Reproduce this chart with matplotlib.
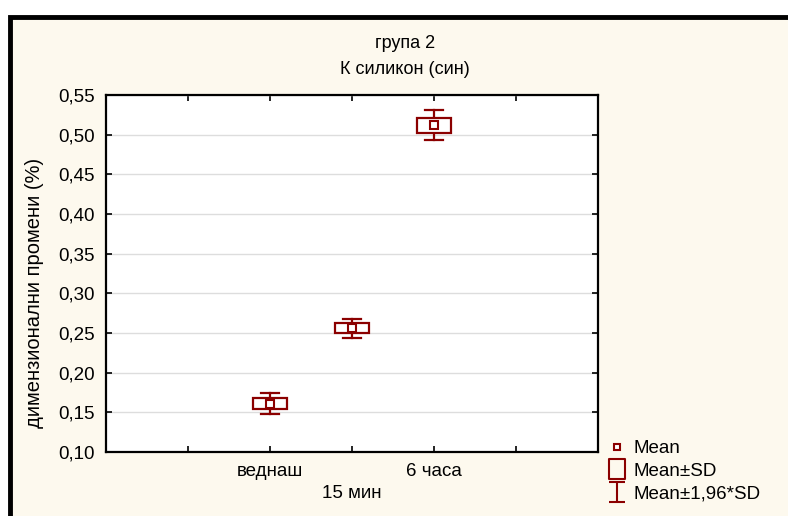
import numpy as np
import matplotlib
matplotlib.use("Agg")
import matplotlib.pyplot as plt
from matplotlib.patches import Rectangle
from matplotlib.lines import Line2D
from matplotlib.path import Path

# data
groups = ["веднаш", "15 мин", "6 часа"]
means = [0.161, 0.256, 0.512]
sds = [0.0065, 0.006, 0.0095]
positions = [2, 3, 4]

yticks = [0.10, 0.15, 0.20, 0.25, 0.30, 0.35, 0.40, 0.45, 0.50, 0.55]
ytick_labels = [f"{v:.2f}".replace(".", ",") for v in yticks]

plt.rcParams["font.family"] = ["Liberation Sans", "DejaVu Sans"]
red = "#8b0000"
cream = "#fdf9ee"
fs = 13.5

fig = plt.figure(figsize=(7.88, 5.16), dpi=100, facecolor="white")

# cream panel with thick black border at top and left
fig.add_artist(Rectangle((9.5 / 788, -0.1), 1.2, 1 - 16.5 / 516 + 0.1,
                         transform=fig.transFigure, facecolor=cream,
                         edgecolor="black", linewidth=3.5, zorder=0))

ax = fig.add_axes([106 / 788, 64 / 516, 492 / 788, 357 / 516])
ax.set_facecolor("white")

box_w = 0.41
cap_w = 0.22
for x, m, s in zip(positions, means, sds):
    lo, hi = m - 1.96 * s, m + 1.96 * s
    ax.plot([x, x], [lo, hi], color=red, lw=1.6, zorder=3)
    ax.plot([x - cap_w / 2, x + cap_w / 2], [hi, hi], color=red, lw=1.6, zorder=3)
    ax.plot([x - cap_w / 2, x + cap_w / 2], [lo, lo], color=red, lw=1.6, zorder=3)
    ax.add_patch(Rectangle((x - box_w / 2, m - s), box_w, 2 * s,
                           facecolor="white", edgecolor=red, lw=1.6, zorder=4))
    ax.plot([x], [m], marker="s", ms=5.5, mfc="white", mec=red, mew=1.5, zorder=5)

ax.set_xlim(0, 6)
ax.set_ylim(0.10, 0.55)
ax.set_xticks([1, 2, 3, 4, 5])
ax.set_xticklabels(["", groups[0], "\n" + groups[1], groups[2], ""], fontsize=fs,
                   linespacing=1.35)
ax.set_yticks(yticks)
ax.set_yticklabels(ytick_labels, fontsize=fs)
ax.grid(axis="y", color="#dddddd", lw=1)
ax.set_axisbelow(True)
ax.tick_params(direction="in", length=4, width=1.2, top=True, right=True,
               colors="black")
ax.tick_params(axis="x", pad=8)
ax.tick_params(axis="y", pad=8)
for sp in ax.spines.values():
    sp.set_linewidth(1.6)

fig.text(35 / 788, 1 - 293 / 516, "димензионални промени (%)", rotation=90,
         ha="center", va="center", fontsize=14.5)
title_font = ["Liberation Sans Narrow", "Liberation Sans", "DejaVu Sans"]
fig.text(0.514, 1 - 44 / 516, "група 2", ha="center", va="center",
         fontsize=13, family=title_font)
fig.text(0.514, 1 - 70 / 516, "К силикон (син)", ha="center", va="center",
         fontsize=13, family=title_font)

# legend glyphs
rect_path = Path([(-0.84, -1), (0.84, -1), (0.84, 1), (-0.84, 1), (-0.84, -1)],
                 [Path.MOVETO, Path.LINETO, Path.LINETO, Path.LINETO, Path.CLOSEPOLY])
ibeam_path = Path([(0, -1), (0, 1), (-0.8, 1), (0.8, 1), (-0.8, -1), (0.8, -1)],
                  [Path.MOVETO, Path.LINETO, Path.MOVETO, Path.LINETO, Path.MOVETO, Path.LINETO])
handles = [
    Line2D([], [], ls="none", marker="s", ms=5, mfc="white", mec=red, mew=1.5),
    Line2D([], [], ls="none", marker=rect_path, ms=13.7, mfc="none", mec=red, mew=1.5),
    Line2D([], [], ls="none", marker=ibeam_path, ms=14.4, mfc="none", mec=red, mew=1.5),
]
fig.legend(handles, ["Mean", "Mean±SD", "Mean±1,96*SD"], loc="lower left",
           bbox_to_anchor=(601.5 / 788, 4 / 516), frameon=False, fontsize=fs,
           handlelength=0.7, handletextpad=0.5, labelspacing=0.3, borderpad=0)

fig.savefig("out.png", dpi=100, facecolor="white")
